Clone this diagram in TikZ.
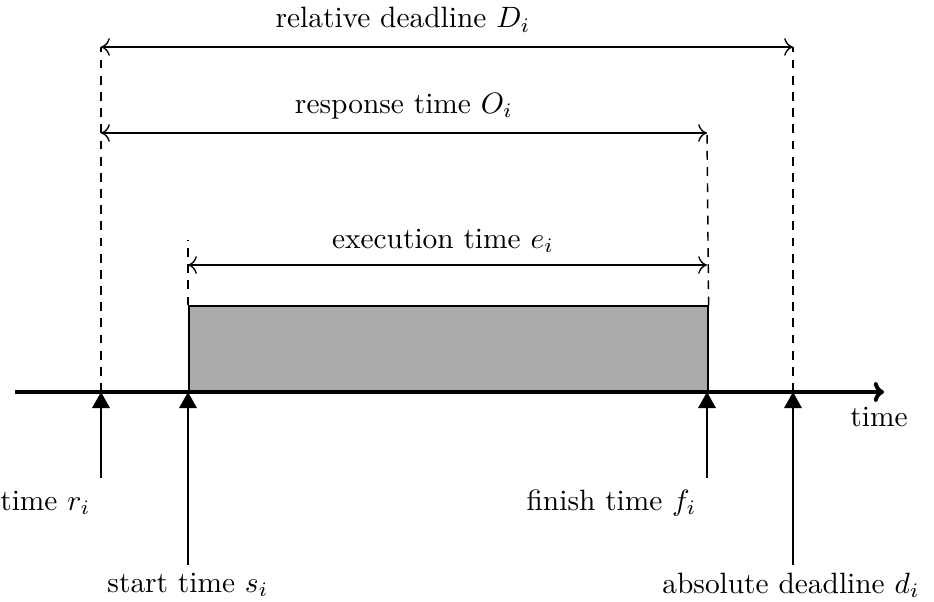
\documentclass[tikz,border=0pt]{standalone}
\usetikzlibrary{arrows.meta}
\begin{document}
\begin{tikzpicture}[x=0.34pt,y=-0.34pt,
  dimline/.style={{To[length=3pt,width=6pt]}-{To[length=3pt,width=6pt]}, line width=0.45pt},
  guide/.style={dash pattern=on 3pt off 2.5pt, line width=0.5pt},
  evarrow/.style={-{Triangle[length=5.5pt,width=6pt]}, line width=0.55pt},
  lbl/.style={inner sep=0pt}]
\useasboundingbox (0,0) rectangle (934,602);
% coordinates on the axis
\coordinate (r) at (101,392);
\coordinate (s) at (188,392);
\coordinate (f) at (707,392);
\coordinate (d) at (793,392);
\coordinate (ax0) at (15,392);
\coordinate (ax1) at (884,392);
% job box
\node[draw, fill={rgb,255:red,170;green,170;blue,170}, line width=0.55pt, inner sep=0pt, anchor=south west,
  minimum width=519*0.34pt, minimum height=85*0.34pt] (job) at (s) {};
% guides
\coordinate (rtop) at (101,47);
\coordinate (dtop) at (793,47);
\coordinate (ftop) at (707,133);
\coordinate (stop) at (188,240);
\draw[guide] (r) -- (rtop);
\draw[guide] (d) -- (dtop);
\draw[guide] (job.north east) -- (ftop);
\draw[guide] (job.north west) -- (stop);
% dimension lines
\coordinate (D0) at (101,47); \coordinate (D1) at (793,47);
\coordinate (O0) at (101,133); \coordinate (O1) at (707,133);
\coordinate (e0) at (188,265); \coordinate (e1) at (707,265);
\draw[dimline] (D0) -- (D1);
\draw[dimline] (O0) -- (O1);
\draw[dimline] (e0) -- (e1);
\node[lbl] (Dl) at (403,20) {relative deadline $D_i$};
\node[lbl] (Ol) at (404,106) {response time $O_i$};
\node[lbl] (el) at (443,241) {execution time $e_i$};
% axis
\draw[line width=1.35pt, -{To[length=3.5pt,width=7pt,line width=1.35pt]}] (ax0) -- (ax1);
\node[lbl] (tl) at (879,417) {time};
% event arrows
\coordinate (rb) at (101,478);
\coordinate (sb) at (188,565);
\coordinate (fb) at (707,478);
\coordinate (db) at (793,565);
\draw[evarrow] (rb) -- (r);
\draw[evarrow] (sb) -- (s);
\draw[evarrow] (fb) -- (f);
\draw[evarrow] (db) -- (d);
\node[lbl, anchor=east] (rl) at (91,503) {time $r_i$};
\node[lbl] (sl) at (188,585) {start time $s_i$};
\node[lbl, anchor=east] (fl) at (697,503) {finish time $f_i$};
\node[lbl] (dl) at (791,585) {absolute deadline $d_i$};
\end{tikzpicture}
\end{document}
